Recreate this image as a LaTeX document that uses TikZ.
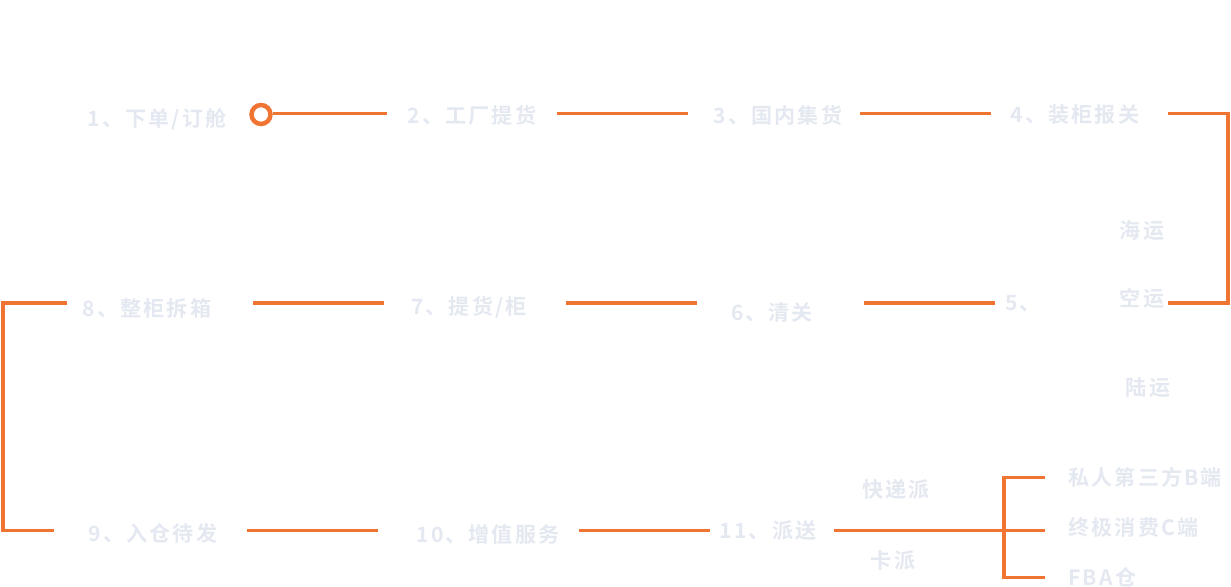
\documentclass[tikz,border=0pt]{standalone}
\usepackage{fontspec}
\usepackage{xcolor}
\usepackage{tikz}
\usetikzlibrary{calc, positioning}
\newfontfamily\cjkfont[LetterSpace=10, BoldFont={Noto Sans CJK SC Bold}]{Noto Sans CJK SC}
\definecolor{lineorange}{RGB}{240,116,50}
\definecolor{labelgray}{RGB}{228,232,240}

\begin{document}
\begin{tikzpicture}[x=0.02cm, y=-0.02cm,
    stage/.style={inner xsep=0pt, inner ysep=2pt, outer sep=0pt, text=labelgray,
        font=\cjkfont\bfseries\fontsize{12pt}{14pt}\selectfont},
    nudge/.style={execute at begin node={\hspace*{#1}}},
    leaf/.style={stage, anchor=west, inner xsep=0.47cm},
    link/.style={draw=lineorange, line width=0.07cm}]
            \useasboundingbox (0,0) rectangle (1231,587);
            \coordinate (row1) at (0,113.5);
            \coordinate (row2) at (0,303);
            \coordinate (row3) at (0,530.5);

            % 1. Hàng trên
            \node[stage] (n1) at (157,119) {1、下单/订舱};
            \node[circle, draw=lineorange, line width=0.09cm, fill=white,
                  minimum size=0.38cm, inner sep=0pt] (c0) at (261,114.5) {};
            \node[stage, minimum width=3.4cm] (n2) at (472,115) {2、工厂提货};
            \node[stage, minimum width=3.44cm, nudge=0.16cm] (n3) at (774,115) {3、国内集货};
            \node[stage, minimum width=3.54cm, nudge=-0.18cm] (n4) at (1079.5,115) {4、装柜报关};

            % 2. Hàng giữa
            \node[stage] (sea) at (1142,231) {海运};
            \node[stage, minimum width=1.04cm] (air) at (1142,299) {空运};
            \node[stage] (land) at (1148,388) {陆运};
            \node[stage, anchor=west, inner xsep=0.2cm] (n5) at (995,304) {5、};
            \node[stage, minimum width=3.34cm, nudge=-0.34cm] (n6) at (780.5,312) {6、清关};
            \node[stage, minimum width=3.64cm, nudge=-0.24cm] (n7) at (475,307) {7、提货/柜};
            \node[stage, minimum width=3.72cm, nudge=-0.52cm] (n8) at (160,308) {8、整柜拆箱};

            % 3. Hàng dưới
            \node[stage, minimum width=3.86cm, nudge=0.1cm] (n9) at (150.5,533) {9、入仓待发};
            \node[stage, minimum width=4.02cm, nudge=0.38cm] (n10) at (478.5,534) {10、增值服务};
            \node[stage, minimum width=2.48cm, nudge=-0.16cm] (n11) at (772,531) {11、派送};
            \node[stage] (exp) at (896,489) {快递派};
            \node[stage] (truck) at (893,561) {卡派};
            \node[leaf] (tB) at (1045,477.5) {私人第三方B端};
            \node[leaf] (tC) at (1045,527) {终极消费C端};
            \node[leaf] (tF) at (1045,577.5) {FBA仓};

            % 4. Đường nối
            \coordinate (eR) at (1228,200);
            \coordinate (eL) at (3,400);
            \coordinate (jB) at (1004,530.5);
            \draw[link] (c0.east |- row1) -- (n2.west |- row1);
            \foreach \a/\b in {n2/n3, n3/n4} {
                \draw[link] (\a.east |- row1) -- (\b.west |- row1);
            }
            \draw[link] (n4.east |- row1) -| (eR) |- (air.east |- row2);
            \foreach \a/\b in {n8/n7, n7/n6, n6/n5} {
                \draw[link] (\a.east |- row2) -- (\b.west |- row2);
            }
            \draw[link] (n8.west |- row2) -| (eL) |- (n9.west |- row3);
            \foreach \a/\b in {n9/n10, n10/n11} {
                \draw[link] (\a.east |- row3) -- (\b.west |- row3);
            }
            \draw[link] (n11.east |- row3) -- (tC.west |- row3);
            \draw[link] (tB.west) -| (jB) |- (tF.west);
        \end{tikzpicture}
\end{document}
